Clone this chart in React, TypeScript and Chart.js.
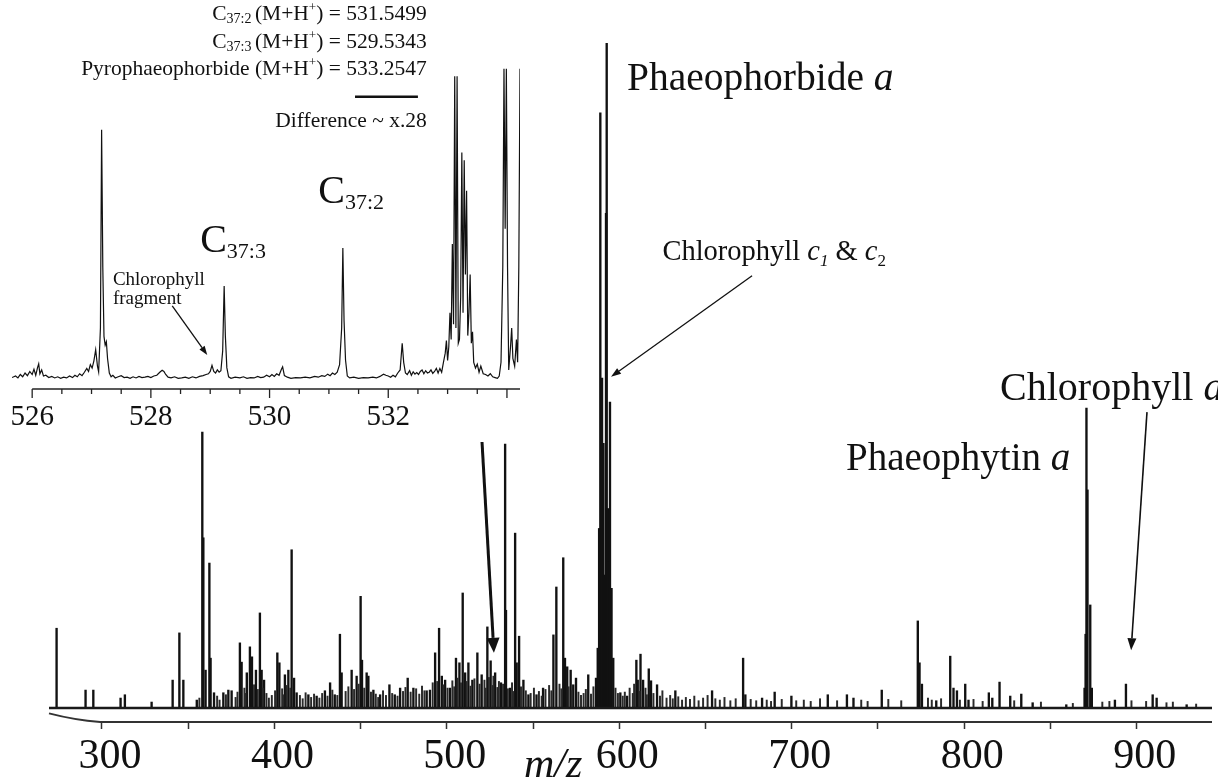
import React, { useEffect, useRef } from 'react';
import { Chart, registerables } from 'chart.js';

Chart.register(...registerables);

// ---------------- main spectrum (m/z, relative intensity %) ----------------
const MAIN_MZ = [
  273.7, 290.5, 295.0, 310.8, 313.3, 328.8, 341.0, 344.9, 347.2, 355.0,
  358.2, 358.8, 360.1, 362.3, 363.0, 365.0, 370.4, 373.3, 375.2, 380.0,
  381.0, 384.0, 385.8, 387.0, 389.3, 391.6, 392.6, 394.0, 401.7, 402.9,
  406.1, 408.1, 410.0, 411.4, 412.9, 419.7, 424.5, 429.3, 432.3, 435.0,
  438.0, 439.0, 444.8, 447.7, 450.0, 450.8, 453.5, 454.5, 457.4, 461.3,
  466.7, 469.8, 472.9, 477.3, 480.6, 488.3, 490.2, 493.2, 495.5, 497.1,
  499.0, 501.8, 505.3, 507.3, 509.2, 510.6, 512.5, 514.8, 517.7, 520.2,
  523.5, 525.4, 528.0, 531.4, 533.8, 534.3, 536.6, 539.6, 540.5, 541.9,
  544.4, 547.3, 552.0, 555.8, 561.8, 563.5, 567.5, 568.5, 569.8, 571.8,
  573.3, 574.9, 582.0, 586.5, 587.5, 588.3, 589.0, 590.0, 590.8, 591.5,
  592.3, 592.7, 593.4, 594.0, 594.6, 595.5, 596.5, 600.6, 604.5, 609.9,
  610.7, 612.3, 613.8, 617.1, 618.4, 621.9, 632.5, 653.8, 671.8, 673.1,
  682.8, 690.1, 699.8, 720.9, 732.0, 735.8, 752.2, 773.1, 774.1, 775.5,
  783.8, 791.9, 793.8, 795.8, 800.6, 802.5, 814.3, 816.3, 820.5, 826.7,
  833.1, 839.7, 859.2, 869.8, 870.4, 870.9, 871.5, 873.1, 874.0, 887.4,
  893.8, 909.3, 911.6, 929.0,
];
const MAIN_INT = [
  12.0, 2.7, 2.7, 1.5, 2.0, 0.9, 4.2, 11.3, 4.2, 1.2,
  41.5, 25.6, 5.7, 21.8, 7.5, 2.3, 2.3, 2.7, 2.6, 9.8,
  6.9, 5.3, 9.2, 7.7, 5.7, 14.3, 5.7, 4.2, 8.3, 6.8,
  5.0, 5.7, 23.8, 4.5, 2.3, 2.0, 1.8, 2.6, 3.8, 2.0,
  11.1, 5.3, 5.7, 4.8, 16.8, 7.2, 5.3, 4.8, 2.7, 2.0,
  3.5, 2.0, 3.0, 4.5, 3.0, 2.6, 2.7, 8.3, 12.0, 4.8,
  4.2, 3.0, 7.5, 6.8, 17.3, 5.3, 6.8, 4.2, 8.3, 5.0,
  12.2, 7.1, 5.3, 3.8, 39.7, 14.7, 3.0, 26.3, 6.8, 10.8,
  4.2, 2.0, 2.0, 3.0, 11.0, 18.2, 22.6, 7.5, 6.2, 5.7,
  3.5, 4.5, 5.0, 4.5, 9.0, 27.0, 89.5, 49.6, 39.8, 20.0,
  74.4, 100, 30.0, 22.0, 46.0, 18.0, 7.5, 2.3, 1.8, 7.2,
  4.2, 8.1, 4.2, 5.9, 4.1, 3.5, 2.6, 2.6, 7.5, 2.0,
  1.5, 2.4, 1.8, 2.0, 2.0, 1.5, 2.7, 13.1, 6.8, 3.6,
  1.1, 7.8, 3.0, 2.6, 3.6, 1.2, 2.3, 1.5, 3.9, 1.8,
  2.1, 0.8, 0.5, 3.0, 11.1, 45.1, 32.8, 15.5, 3.0, 1.2,
  3.6, 2.0, 1.5, 0.5,
];

// small "grass" peaks read from the noise floor
const GRASS_MZ = [
  356.5, 366.8, 368.2, 371.9, 377.5, 378.6, 382.6, 383.2, 388.2, 390.4,
  393.3, 395.4, 396.8, 398.5, 400.4, 404.5, 405.2, 407.1, 409.2, 414.8,
  416.4, 418.1, 421.3, 423.0, 426.1, 427.7, 430.8, 433.6, 436.5, 441.3,
  442.9, 446.2, 448.9, 452.1, 456.0, 458.8, 460.2, 463.0, 464.7, 468.3,
  471.4, 474.6, 476.0, 479.0, 482.2, 484.0, 485.6, 487.0, 491.8, 494.4,
  498.0, 500.4, 503.2, 504.3, 506.2, 508.2, 511.5, 513.7, 516.0, 519.0,
  521.8, 522.6, 524.4, 526.6, 527.0, 529.3, 530.2, 532.6, 535.4, 537.8,
  538.5, 543.0, 545.8, 548.6, 550.5, 553.4, 555.0, 557.2, 559.3, 560.6,
  565.3, 566.4, 570.6, 572.5, 576.3, 577.8, 579.3, 580.6, 583.6, 585.0,
  597.8, 599.2, 602.0, 603.2, 606.0, 607.8, 608.6, 611.8, 615.2, 616.0,
  619.8, 623.6, 625.0, 627.4, 629.5, 631.0, 634.2, 636.4, 638.6, 641.0,
  643.5, 646.0, 648.6, 651.2, 655.7, 658.3, 661.0, 664.4, 667.5, 676.2,
  679.4, 685.5, 688.0, 694.2, 702.6, 707.0, 711.0, 716.4, 726.3, 740.3,
  744.0, 756.0, 763.5, 779.0, 781.2, 786.6, 797.5, 805.4, 810.7, 829.0,
  844.5, 863.0, 880.1, 884.2, 897.0, 905.5, 917.3, 921.0, 934.5,
];
const GRASS_INT = [
  1.5, 1.8, 1.2, 2.0, 1.6, 2.4, 3.0, 2.2, 3.5, 2.8,
  3.0, 2.2, 1.5, 1.9, 2.6, 2.9, 2.0, 3.4, 3.0, 1.9,
  1.4, 2.3, 1.6, 2.1, 1.5, 2.2, 1.8, 2.7, 1.9, 2.5,
  3.2, 2.8, 3.6, 3.0, 2.4, 2.1, 1.6, 2.6, 1.9, 2.2,
  1.8, 2.5, 3.1, 2.4, 2.9, 2.1, 3.3, 2.6, 3.8, 4.0,
  3.5, 3.0, 4.1, 3.2, 4.5, 3.8, 4.0, 3.3, 4.4, 3.6,
  4.2, 3.0, 4.6, 3.4, 4.8, 3.1, 4.0, 3.6, 2.9, 3.8,
  2.5, 3.2, 2.6, 2.2, 3.0, 2.5, 1.8, 2.8, 3.4, 2.6,
  3.6, 2.9, 3.2, 2.6, 2.4, 1.9, 2.2, 2.8, 2.1, 3.2,
  3.0, 2.2, 1.8, 2.4, 3.0, 2.2, 3.6, 2.5, 3.0, 2.0,
  2.2, 1.8, 2.6, 1.5, 1.9, 1.4, 1.7, 1.2, 1.6, 1.3,
  1.8, 1.1, 1.5, 1.9, 1.4, 1.2, 1.6, 1.1, 1.4, 1.3,
  1.1, 1.2, 1.0, 1.3, 1.1, 1.2, 1.0, 1.4, 1.1, 1.2,
  1.0, 1.3, 1.1, 1.5, 1.2, 1.4, 1.2, 1.3, 1.0, 1.1,
  0.9, 0.7, 0.9, 1.0, 1.1, 1.0, 0.8, 0.9, 0.6,
];

const MAIN_RANGE = [269.3, 943.7];
const MAIN_TICKS = [300, 350, 400, 450, 500, 550, 600, 650, 700, 750, 800, 850, 900];
const MAIN_TICK_LABELS = ['300', '', '400', '', '500', '', '600', '', '700', '', '800', '', '900'];

// ---------------- inset (zoom 525.7 – 534.2) ----------------
const INSET_MZ = [
  525.66, 525.72, 525.76, 525.80, 525.84, 525.88, 525.92, 525.96, 526.00, 526.03,
  526.06, 526.09, 526.11, 526.13, 526.16, 526.19, 526.23, 526.28, 526.33, 526.38,
  526.43, 526.48, 526.53, 526.58, 526.63, 526.68, 526.72, 526.76, 526.80, 526.84,
  526.88, 526.92, 526.95, 526.98, 527.01, 527.04, 527.07, 527.10, 527.12, 527.15,
  527.17, 527.19, 527.21, 527.23, 527.25, 527.27, 527.30, 527.33, 527.36, 527.40,
  527.45, 527.50, 527.55, 527.60, 527.65, 527.70, 527.75, 527.80, 527.85, 527.90,
  527.95, 528.00, 528.05, 528.10, 528.15, 528.19, 528.22, 528.25, 528.29, 528.34,
  528.40, 528.46, 528.52, 528.58, 528.64, 528.70, 528.76, 528.82, 528.88, 528.93,
  528.97, 529.00, 529.03, 529.06, 529.09, 529.12, 529.15, 529.18, 529.21, 529.235,
  529.255, 529.28, 529.31, 529.35, 529.42, 529.50, 529.56, 529.62, 529.68, 529.74,
  529.80, 529.85, 529.90, 529.95, 530.00, 530.04, 530.08, 530.12, 530.16, 530.20,
  530.22, 530.25, 530.30, 530.36, 530.44, 530.52, 530.60, 530.68, 530.76, 530.82,
  530.88, 530.93, 530.98, 531.02, 531.06, 531.10, 531.14, 531.18, 531.215, 531.235,
  531.255, 531.28, 531.31, 531.35, 531.42, 531.50, 531.58, 531.66, 531.74, 531.80,
  531.86, 531.92, 531.96, 532.00, 532.04, 532.08, 532.12, 532.16, 532.20, 532.235,
  532.26, 532.29, 532.32, 532.36, 532.39, 532.42, 532.45, 532.48, 532.51, 532.54,
  532.57, 532.60, 532.63, 532.66, 532.69, 532.72, 532.75, 532.78, 532.81, 532.84,
  532.87, 532.90, 532.93, 532.96, 532.98, 533.00, 533.02, 533.04, 533.06, 533.08,
  533.10, 533.12, 533.14, 533.16, 533.18, 533.20, 533.22, 533.24, 533.26, 533.28,
  533.30, 533.32, 533.34, 533.36, 533.38, 533.40, 533.42, 533.44, 533.47, 533.50,
  533.53, 533.56, 533.60, 533.64, 533.68, 533.72, 533.76, 533.80, 533.84, 533.87,
  533.90, 533.93, 533.95, 533.97, 533.99, 534.01, 534.03, 534.06, 534.08, 534.10,
  534.13, 534.16, 534.18, 534.20, 534.22,
];
const INSET_INT = [
  1.0, 1.4, 0.9, 1.8, 1.2, 2.2, 1.5, 2.6, 1.8, 3.2,
  1.6, 3.6, 4.6, 2.0, 3.0, 1.4, 1.6, 1.0, 1.3, 0.9,
  1.2, 0.8, 1.1, 0.9, 1.4, 1.0, 1.6, 1.2, 2.0, 1.5,
  2.4, 3.4, 2.6, 4.4, 3.5, 5.4, 8.3, 4.0, 2.5, 14.0,
  66.0, 30.0, 11.8, 9.5, 10.4, 6.0, 2.2, 1.2, 1.6, 0.9,
  1.2, 1.5, 1.0, 1.1, 0.8, 1.2, 0.9, 1.3, 1.0, 1.1,
  1.3, 1.0, 1.4, 1.6, 2.4, 2.9, 2.6, 1.8, 1.1, 0.9,
  1.2, 0.8, 0.9, 1.1, 0.8, 1.2, 0.9, 1.3, 1.5, 1.8,
  2.0, 2.6, 4.2, 2.6, 2.2, 3.0, 2.4, 2.8, 8.0, 25.0,
  12.0, 3.6, 1.2, 0.8, 1.1, 0.9, 1.2, 0.8, 1.0, 0.9,
  1.3, 1.0, 1.1, 1.6, 1.2, 1.8, 1.3, 2.0, 1.6, 3.2,
  3.8, 1.5, 1.1, 0.8, 1.0, 0.9, 1.1, 0.9, 1.3, 1.1,
  1.5, 1.3, 1.9, 1.5, 2.2, 1.8, 2.4, 4.4, 14.0, 35.0,
  16.0, 5.6, 1.4, 0.9, 1.1, 0.8, 1.0, 0.9, 1.1, 0.9,
  1.3, 1.9, 1.6, 1.4, 1.1, 1.6, 1.2, 2.2, 3.0, 10.0,
  5.0, 2.2, 1.8, 2.8, 1.6, 2.5, 1.9, 2.3, 1.8, 2.6,
  3.0, 2.0, 2.8, 2.2, 2.4, 3.0, 2.1, 2.6, 3.4, 2.2,
  3.4, 2.4, 5.0, 7.4, 10.7, 5.5, 9.0, 18.0, 11.0, 36.0,
  15.0, 80.0, 14.0, 80.0, 10.0, 11.0, 22.0, 60.0, 18.0, 58.0,
  28.0, 50.0, 12.0, 18.0, 28.0, 10.0, 13.0, 5.0, 3.5, 4.5,
  2.4, 4.0, 2.0, 1.8, 1.4, 2.0, 1.2, 1.0, 0.8, 1.4,
  5.0, 30.0, 82.0, 40.0, 82.0, 30.0, 3.0, 9.0, 14.0, 6.0,
  4.0, 11.0, 5.0, 30.0, 82.0,
];
const INSET_RANGE = [525.66, 534.22];
const INSET_TICKS = [526, 526.5, 527, 527.5, 528, 528.5, 529, 529.5, 530, 530.5, 531, 531.5, 532, 532.5, 533, 533.5, 534];
const INSET_TICK_LABELS = ['526', '', '', '', '528', '', '', '', '530', '', '', '', '532', '', '', '', ''];
const INSET_MAJOR_TICKS = [526, 528, 530, 532, 534];

// ---------------- annotation helpers ----------------
const SERIF = '"Liberation Serif", "Times New Roman", Times, serif';

type Run = { t: string; size: number; italic?: boolean; dy?: number };
type TextNote = { mz: number; v: number; align: 'left' | 'right' | 'center'; runs: Run[] };
type ArrowNote = { from: [number, number]; to: [number, number]; width: number; head: number; headW: number };

const fontOf = (r: Run) => `${r.italic ? 'italic ' : ''}${r.size}px ${SERIF}`;

function drawRuns(ctx: CanvasRenderingContext2D, runs: Run[], x: number, y: number, align: string) {
  let total = 0;
  for (const r of runs) {
    ctx.font = fontOf(r);
    total += ctx.measureText(r.t).width;
  }
  let cx = align === 'right' ? x - total : align === 'center' ? x - total / 2 : x;
  ctx.textAlign = 'left';
  ctx.textBaseline = 'alphabetic';
  for (const r of runs) {
    ctx.font = fontOf(r);
    ctx.fillText(r.t, cx, y + (r.dy || 0));
    cx += ctx.measureText(r.t).width;
  }
}

function drawArrow(ctx: CanvasRenderingContext2D, x1: number, y1: number, x2: number, y2: number, w: number, head: number, headW: number) {
  const a = Math.atan2(y2 - y1, x2 - x1);
  const bx = x2 - head * Math.cos(a);
  const by = y2 - head * Math.sin(a);
  ctx.lineWidth = w;
  ctx.beginPath();
  ctx.moveTo(x1, y1);
  ctx.lineTo(bx, by);
  ctx.stroke();
  ctx.beginPath();
  ctx.moveTo(x2, y2);
  ctx.lineTo(bx + headW * Math.sin(a), by - headW * Math.cos(a));
  ctx.lineTo(bx - headW * Math.sin(a), by + headW * Math.cos(a));
  ctx.closePath();
  ctx.fill();
}

const MAIN_TEXTS: TextNote[] = [
  { mz: 604.5, v: 92.9, align: 'left', runs: [{ t: 'Phaeophorbide ', size: 39.5 }, { t: 'a', size: 39.5, italic: true }] },
  {
    mz: 625.0, v: 67.4, align: 'left', runs: [
      { t: 'Chlorophyll ', size: 28.5 }, { t: 'c', size: 28.5, italic: true }, { t: '1', size: 17, italic: true, dy: 6 },
      { t: ' & ', size: 28.5 }, { t: 'c', size: 28.5, italic: true }, { t: '2', size: 17, dy: 6 },
    ],
  },
  { mz: 820.8, v: 46.3, align: 'left', runs: [{ t: 'Chlorophyll ', size: 40 }, { t: 'a', size: 40, italic: true }] },
  { mz: 731.5, v: 35.8, align: 'left', runs: [{ t: 'Phaeophytin ', size: 39 }, { t: 'a', size: 39, italic: true }] },
  { mz: 561.6, v: -10.4, align: 'center', runs: [{ t: 'm/z', size: 42, italic: true }] },
];
const MAIN_ARROWS: ArrowNote[] = [
  { from: [677.0, 65.0], to: [595.2, 49.8], width: 1.3, head: 10, headW: 3.5 },
  { from: [906.0, 44.5], to: [896.8, 8.7], width: 1.6, head: 12, headW: 4.5 },
  { from: [520.4, 40.0], to: [527.3, 8.3], width: 3, head: 15, headW: 6.5 },
];
// left end of the axis curves up into the spectrum baseline (as in the scan)
const AXIS_CURVE = { joinMz: 299, startV: -0.8 };

const INSET_TEXT_RIGHT = 532.65;
const INSET_TEXTS: TextNote[] = [
  {
    mz: INSET_TEXT_RIGHT, v: 94.8, align: 'right', runs: [
      { t: 'C', size: 21.5 }, { t: '37:2 ', size: 14, dy: 3 }, { t: '(M+H', size: 21.5 }, { t: '+', size: 13, dy: -9 }, { t: ') = 531.5499', size: 21.5 },
    ],
  },
  {
    mz: INSET_TEXT_RIGHT, v: 87.4, align: 'right', runs: [
      { t: 'C', size: 21.5 }, { t: '37:3 ', size: 14, dy: 3 }, { t: '(M+H', size: 21.5 }, { t: '+', size: 13, dy: -9 }, { t: ') = 529.5343', size: 21.5 },
    ],
  },
  {
    mz: INSET_TEXT_RIGHT, v: 80.3, align: 'right', runs: [
      { t: 'Pyrophaeophorbide (M+H', size: 21.5 }, { t: '+', size: 13, dy: -9 }, { t: ') = 533.2547', size: 21.5 },
    ],
  },
  { mz: INSET_TEXT_RIGHT, v: 66.7, align: 'right', runs: [{ t: 'Difference ~ x.28', size: 21.5 }] },
  { mz: 528.83, v: 33.9, align: 'left', runs: [{ t: 'C', size: 40 }, { t: '37:3', size: 22, dy: 6 }] },
  { mz: 530.82, v: 46.8, align: 'left', runs: [{ t: 'C', size: 40 }, { t: '37:2', size: 22, dy: 6 }] },
  { mz: 527.36, v: 25.3, align: 'left', runs: [{ t: 'Chlorophyll', size: 19 }] },
  { mz: 527.36, v: 20.3, align: 'left', runs: [{ t: 'fragment', size: 19 }] },
];
const INSET_ARROWS: ArrowNote[] = [
  { from: [528.36, 19.8], to: [528.95, 6.9], width: 1.3, head: 9, headW: 3.2 },
];
const INSET_UNDERLINE = { from: 531.44, to: 532.5, v: 74.6, width: 2.5 };

const mainNotes = {
  id: 'mainNotes',
  afterDraw(chart: any) {
    const { ctx, scales, chartArea } = chart;
    const xs = scales.x, ys = scales.y;
    ctx.save();
    ctx.fillStyle = '#111';
    ctx.strokeStyle = '#333';
    const yb = chartArea.bottom;
    const xj = xs.getPixelForValue(AXIS_CURVE.joinMz);
    ctx.lineWidth = 2;
    ctx.beginPath();
    ctx.moveTo(chartArea.right, yb);
    ctx.lineTo(xj, yb);
    ctx.quadraticCurveTo((chartArea.left + xj) / 2, yb - 2, chartArea.left, ys.getPixelForValue(AXIS_CURVE.startV));
    ctx.stroke();
    ctx.strokeStyle = '#111';
    for (const n of MAIN_TEXTS) drawRuns(ctx, n.runs, xs.getPixelForValue(n.mz), ys.getPixelForValue(n.v), n.align);
    for (const a of MAIN_ARROWS) {
      drawArrow(ctx, xs.getPixelForValue(a.from[0]), ys.getPixelForValue(a.from[1]),
        xs.getPixelForValue(a.to[0]), ys.getPixelForValue(a.to[1]), a.width, a.head, a.headW);
    }
    ctx.restore();
  },
};

const insetNotes = {
  id: 'insetNotes',
  afterDraw(chart: any) {
    const { ctx, scales, chartArea } = chart;
    const xs = scales.x, ys = scales.y;
    ctx.save();
    ctx.fillStyle = '#111';
    ctx.strokeStyle = '#222';
    const yb = chartArea.bottom;
    ctx.lineWidth = 1.6;
    ctx.beginPath();
    ctx.moveTo(xs.getPixelForValue(INSET_TICKS[0]), yb);
    ctx.lineTo(chartArea.right, yb);
    ctx.stroke();
    ctx.lineWidth = 1.3;
    for (const t of INSET_TICKS) {
      const px = xs.getPixelForValue(t);
      const len = INSET_MAJOR_TICKS.includes(t) ? 9 : 5;
      ctx.beginPath();
      ctx.moveTo(px, yb);
      ctx.lineTo(px, yb + len);
      ctx.stroke();
    }
    ctx.strokeStyle = '#111';
    for (const n of INSET_TEXTS) drawRuns(ctx, n.runs, xs.getPixelForValue(n.mz), ys.getPixelForValue(n.v), n.align);
    for (const a of INSET_ARROWS) {
      drawArrow(ctx, xs.getPixelForValue(a.from[0]), ys.getPixelForValue(a.from[1]),
        xs.getPixelForValue(a.to[0]), ys.getPixelForValue(a.to[1]), a.width, a.head, a.headW);
    }
    ctx.lineWidth = INSET_UNDERLINE.width;
    ctx.beginPath();
    ctx.moveTo(xs.getPixelForValue(INSET_UNDERLINE.from), ys.getPixelForValue(INSET_UNDERLINE.v));
    ctx.lineTo(xs.getPixelForValue(INSET_UNDERLINE.to), ys.getPixelForValue(INSET_UNDERLINE.v));
    ctx.stroke();
    ctx.restore();
  },
};

export default function App() {
  const mainRef = useRef<HTMLCanvasElement | null>(null);
  const insetRef = useRef<HTMLCanvasElement | null>(null);

  useEffect(() => {
    document.body.style.margin = '0';
    if (!mainRef.current || !insetRef.current) return;

    const main = new Chart(mainRef.current, {
      type: 'bar',
      data: {
        datasets: [
          {
            type: 'line',
            data: [{ x: MAIN_RANGE[0], y: 0 }, { x: MAIN_RANGE[1], y: 0 }],
            borderColor: '#1a1a1a',
            borderWidth: 2.5,
            pointRadius: 0,
          } as any,
          {
            type: 'bar',
            data: GRASS_MZ.map((m, i) => ({ x: m, y: GRASS_INT[i] })),
            backgroundColor: '#2a2a2a',
            barThickness: 1.3,
            grouped: false,
          } as any,
          {
            type: 'bar',
            data: MAIN_MZ.map((m, i) => ({ x: m, y: MAIN_INT[i] })),
            backgroundColor: '#111',
            barThickness: 1.7,
            grouped: false,
          } as any,
        ],
      },
      options: {
        responsive: false,
        animation: false,
        devicePixelRatio: 1,
        layout: { padding: { left: 49, right: 6, top: 43, bottom: 8 } },
        plugins: { legend: { display: false }, tooltip: { enabled: false }, title: { display: false } },
        scales: {
          x: {
            type: 'linear',
            min: MAIN_RANGE[0],
            max: MAIN_RANGE[1],
            offset: false,
            afterBuildTicks: (s: any) => { s.ticks = MAIN_TICKS.map((v) => ({ value: v })); },
            afterFit: (s: any) => { s.height = 50; },
            grid: { display: true, offset: false, drawOnChartArea: false, drawTicks: true, tickLength: 7, tickColor: '#333', tickWidth: 1.5 },
            border: { display: false },
            ticks: {
              autoSkip: false,
              maxRotation: 0,
              padding: 3,
              labelOffset: 8,
              color: '#111',
              font: { family: SERIF, size: 42 },
              callback: (_v: any, i: number) => MAIN_TICK_LABELS[i],
            },
          },
          y: { display: false, min: -2.1, max: 100 },
        },
      } as any,
      plugins: [mainNotes],
    });

    const inset = new Chart(insetRef.current, {
      type: 'line',
      data: {
        datasets: [
          {
            data: INSET_MZ.map((m, i) => ({ x: m, y: INSET_INT[i] })),
            borderColor: '#111',
            borderWidth: 1.2,
            pointRadius: 0,
            tension: 0,
          },
        ],
      },
      options: {
        responsive: false,
        animation: false,
        devicePixelRatio: 1,
        layout: { padding: { left: 12, right: 10, top: 0, bottom: 0 } },
        plugins: { legend: { display: false }, tooltip: { enabled: false }, title: { display: false } },
        scales: {
          x: {
            type: 'linear',
            min: INSET_RANGE[0],
            max: INSET_RANGE[1],
            afterBuildTicks: (s: any) => { s.ticks = INSET_TICKS.map((v) => ({ value: v })); },
            afterFit: (s: any) => { s.height = 51; },
            grid: { display: true, drawOnChartArea: false, drawTicks: true, tickLength: 10, tickColor: 'rgba(0,0,0,0)' },
            border: { display: false },
            ticks: {
              autoSkip: false,
              maxRotation: 0,
              padding: 1,
              color: '#111',
              font: { family: SERIF, size: 29 },
              callback: (_v: any, i: number) => INSET_TICK_LABELS[i],
            },
          },
          y: { display: false, min: -2, max: 100 },
        },
      } as any,
      plugins: [insetNotes],
    });

    return () => {
      main.destroy();
      inset.destroy();
    };
  }, []);

  return (
    <div style={{ position: 'relative', width: 1218, height: 780, background: '#fff', overflow: 'hidden' }}>
      <canvas ref={mainRef} width={1218} height={780} style={{ position: 'absolute', left: 0, top: 0, width: 1218, height: 780 }} />
      <canvas ref={insetRef} width={530} height={440} style={{ position: 'absolute', left: 0, top: 0, width: 530, height: 440 }} />
    </div>
  );
}
